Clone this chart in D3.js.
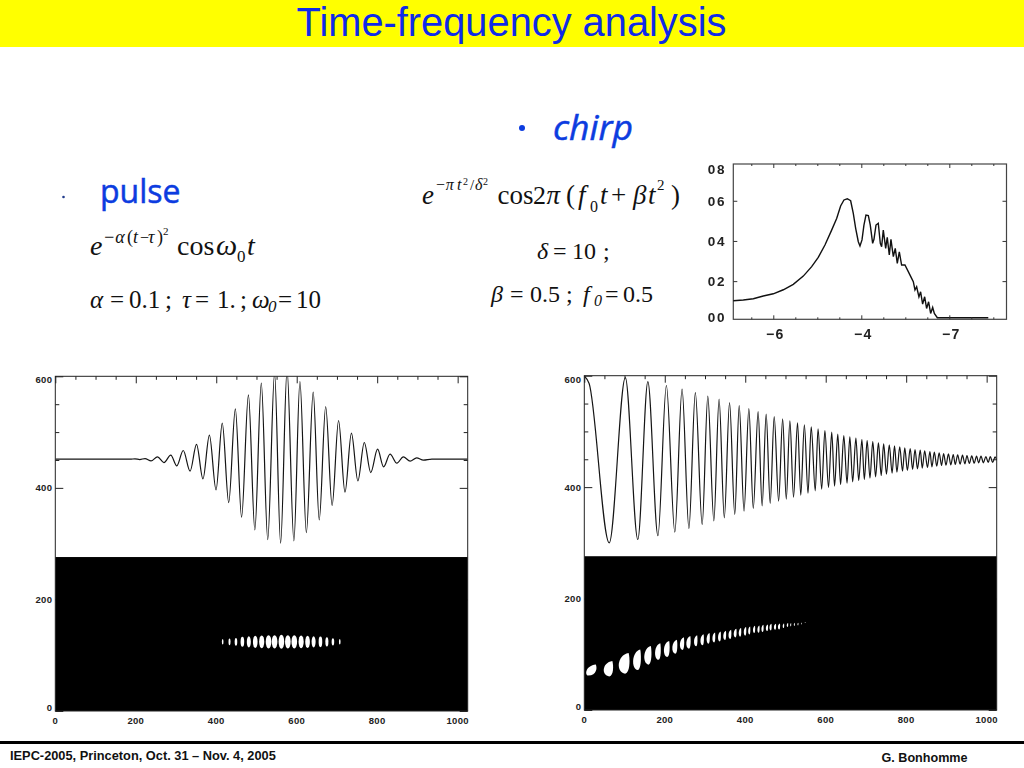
<!DOCTYPE html>
<html><head><meta charset="utf-8">
<style>html,body{margin:0;padding:0;background:#fff}svg{display:block}</style>
<script src="https://cdn.jsdelivr.net/npm/d3@7/dist/d3.min.js"></script>
</head><body>
<svg id="c" width="1024" height="768" viewBox="0 0 1024 768"></svg>
<script>
const titleText = "Time-frequency analysis";
const footerLeft = "IEPC-2005, Princeton, Oct. 31 – Nov. 4, 2005";
const footerRight = "G. Bonhomme";

const majorX = [0,200,400,600,800,1000];
const minorX = [50,100,150,250,300,350,450,500,550,650,700,750,850,900,950];
const majorY = [0,200,400,600];
const minorY = [450,500,550];

const pulseTime = [0,187,198,210,223,238,254,270,287,302,318,335,351,367,383,399.5,415,431,447.5,463,480,496,512,528,545,560,576,593,608,624,641,656,672,688,704,720,736,752,768,784,801,816,832,849,865,882,898,915,936,1025];
const pulseAmp  = [451.4,451.4,452,450.8,452.6,448.4,455.6,445.4,458.6,439.4,467,430,478,416,494.5,396.4,516,373.7,541.7,347.3,566.8,324.6,587.7,307.3,606,300.7,612,304.9,590.7,319.8,571.6,342.6,545.9,368.3,520.8,392.2,498,412.5,481.3,427.5,469.3,437.6,460.4,444.2,455.6,447.8,453.8,449.6,451.4,451.4];

const chirpTime = [0,12,62,102,133,158,183,204,225,243,260,276,293,307,322,335,348,361,374,385,397,409,420,432,442,452,462,472,483,493,502,511,520,530,538,547,556,564,574,581,590,598,607,615,622,630,637,645,653,660,667,675,682,690,696,703,710,717,724,731,738,744,751,758,765,771,777,784,791,796.5,803,810,816,822,828,835,840,846,853,859,864,870,876,882,888,893,899,905,911,917,922,928,934,940,946,951,957,963,969,975,980,986,992,998,1004,1009,1015,1021,1025];
const chirpAmp  = [599.7,586,300,596.7,306,589.5,312.7,582.4,319.2,575.8,325.8,569.8,333,563.2,339.6,557.8,345,551.9,351,546.5,356.9,541.1,361.7,535.7,366.5,530.9,370.7,526.7,374.8,522.6,378.4,519,382,515.4,385.6,511.8,389.2,508.2,393.4,504.6,396.4,501.6,399.4,498.6,401.8,495,404.7,492.7,407.1,490.3,409.5,487.9,411.9,485.5,413.7,483.7,416.1,481.9,418.5,479.5,420.9,477.7,423.3,475.9,425.1,474.1,426.9,472.3,428.7,470.5,429.9,469.3,431.7,467.5,432.9,466.3,434.1,465.1,435.2,463.9,436.4,462.8,437.6,461.6,438.8,460.4,439.4,459.8,440,458.6,440.6,458,441.2,457.4,441.8,456.8,442.4,456.2,443,455.6,443.6,455.6,443.6,455,444.2,455,444.2,454.4,448.4];

const pulseBlobTime = [416,433,449,465,481,497,513,530,545,562,578,594,611,627,642,659,675,690,707];
const pulseBlobHalfFreq = [5,6,7,9,10,11,11.4,12,12,12.6,12,12,11.4,11,10,9.6,8.4,6.6,5];
const pulseBlobHalfTime = [2,2.5,3.2,4.5,5,5.8,6.4,7,7,7,7,7,6.4,5.8,5,4.5,3.8,3.2,2];
const pulseBlobFreq = 124;

const chirpBlobTime = [19,60,99,131,158,183,205,225,243,259,277,293,308,322,336,349,362,375,387,399.5,410,422,433,443,454,463,474,484,495,505,513,522,531,540,549];
const chirpBlobFreq = [71.7,74,83.6,90.2,98,105,109.4,113.5,119,121.3,124.3,126.1,128.5,130.3,132,133.9,135.7,138,139.3,141,142.8,144.6,145.2,146.4,147.6,148.8,149.4,150,151.2,152.4,153,153.6,154.2,155.4,156.6];
const chirpBlobHalfFreq = [10,13.8,18.5,18.5,16.7,15,14.4,12.6,11.4,11.4,10,10,9.6,9,9,8.4,8.4,7.8,7.8,7.8,7.2,6.6,6.6,6.6,6,6,5.4,5.4,4.2,3.6,3,3,2.4,1.8,0.6];
const chirpBlobHalfTime = [10.8,10.8,12.4,9,8.3,6.6,6.6,5.8,5,5,4,4,3.7,3.3,3.3,3.3,3.3,3.3,2.9,2.9,2.5,2.5,2.5,2.5,2.5,2.5,2.5,2.5,1.7,1.7,1.2,1.2,1.2,0.8,1.7];

const insetPos = [-0.455,-0.341,-0.227,-0.114,0,0.114,0.227,0.341,0.436,0.511,0.587,0.663,0.72,0.765,0.803,0.841,0.879,0.909,0.936,0.966,0.985,1.008,1.03,1.053,1.08,1.102,1.129,1.144,1.167,1.193,1.216,1.231,1.25,1.277,1.295,1.318,1.337,1.364,1.386,1.409,1.432,1.458,1.496,1.534,1.572,1.591,1.61,1.629,1.655,1.674,1.697,1.72,1.742,1.765,1.788,1.811,1.83,1.864,2.083,2.443];
const insetVal = [0.1025,0.106,0.1125,0.126,0.137,0.157,0.184,0.225,0.272,0.318,0.38,0.454,0.512,0.574,0.604,0.61,0.6,0.537,0.463,0.396,0.375,0.405,0.479,0.529,0.526,0.479,0.388,0.408,0.479,0.488,0.388,0.371,0.454,0.363,0.418,0.33,0.408,0.322,0.363,0.288,0.346,0.28,0.28,0.247,0.214,0.197,0.156,0.172,0.122,0.147,0.086,0.122,0.064,0.097,0.039,0.069,0.039,0.018,0.018,0.018];
const insetXTicks = [0,1,2];
const insetXLabels = ["\u22126","\u22124","\u22127"];
const insetYTicks = [0.2,0.4,0.6];
const insetYLabels = ["08","06","04","02","00"];

const svg = d3.select("#c");
const blue = "#0c3ce0";
const SERIF = "'Liberation Serif','Times New Roman',serif";
const SANS = "'Liberation Sans',Arial,sans-serif";

// banner
svg.append("rect").attr("x",0).attr("y",0).attr("width",1024).attr("height",47).attr("fill","#ffff00");
svg.append("text").attr("x",511.5).attr("y",35.5).attr("text-anchor","middle")
  .attr("font-family",SANS).attr("font-size",39.8).attr("fill","#0f2be8").text(titleText);

// headings
const head = (x,y,s,size,it) => svg.append("text").attr("x",x).attr("y",y)
  .attr("font-family","'Open Sans','Noto Sans',sans-serif").attr("font-size",size)
  .attr("font-style",it?"italic":"normal").attr("fill",blue)
  .attr("stroke",blue).attr("stroke-width",0.5).text(s);
head(100,203,"pulse",32,false);
head(553,140,"chirp",35.5,true);
svg.append("circle").attr("cx",63.5).attr("cy",197).attr("r",1.3).attr("fill","#223c8c");
svg.append("circle").attr("cx",522).attr("cy",128).attr("r",3).attr("fill",blue);

// equations
const eq = (items) => items.forEach(([x,y,s,size,it]) => svg.append("text")
  .attr("x",x).attr("y",y).attr("font-family",SERIF).attr("font-size",size)
  .attr("font-style",it?"italic":"normal").attr("fill","#111").text(s));
eq([
 [90,255,"e",28,1],[103,243,"\u2212\u03b1",18,1],[127,243,"(",18,0],[133,243,"t",18,1],[140,243,"\u2212",16,0],[148,243,"\u03c4",18,1],[157,243,")",18,0],[163,235,"2",11,0],
 [177,255,"cos",28,0],[216,255,"\u03c9",30,1],[237,262,"0",17,0],[247,255,"t",28,1],
 [90,308,"\u03b1",25,1],[110,308,"=",25,0],[129,308,"0.1",25,0],[165,308,";",25,0],[182,308,"\u03c4",25,1],[195,308,"=",25,0],[217,308,"1.",25,0],[240,308,";",25,0],[252,308,"\u03c9",25,1],[268,312,"0",17,1],[278,308,"=",25,0],[296,308,"10",25,0],

 [422,204,"e",27,1],[435,190,"\u2212\u03c0",16,1],[457,190,"t",16,1],[463,185,"2",10,0],[470,190,"/",15,0],[475,190,"\u03b4",16,1],[483,185,"2",10,0],
 [497.5,204,"cos",27,0],[533,204,"2",26,0],[546.5,204,"\u03c0",27,1],[566,204,"(",27,0],[578,204,"f",27,1],[590,212,"0",16,0],[600,204,"t",27,1],[611,204,"+",27,0],[633,204,"\u03b2",27,1],[648,204,"t",27,1],[657,190,"2",15,0],[671,204,")",27,0],
 [537,259,"\u03b4",24,1],[553,259,"=",24,0],[572,259,"10",24,0],[603,259,";",24,0],
 [491,302,"\u03b2",24,1],[510,302,"=",24,0],[530,302,"0.5",24,0],[566,302,";",24,0],[583,302,"f",24,1],[594,306,"0",16,1],[605,302,"=",24,0],[623,302,"0.5",24,0]
]);

// wave + spectrogram panel
function panel(id,left,top,right,bottom,time,amp,drawBlobs){
  const x = d3.scaleLinear().domain([0,1025]).range([left,right]);
  const y = d3.scaleLinear().domain([0,600]).range([bottom,top]);
  const g = svg.append("g");
  g.append("clipPath").attr("id",id).append("rect")
    .attr("x",left).attr("y",top).attr("width",right-left).attr("height",bottom-top);
  const pts = time.map((t,i)=>[t,amp[i]]);
  g.append("path").datum(pts).attr("clip-path",`url(#${id})`).attr("fill","none")
    .attr("stroke","#151515").attr("stroke-width",1.2)
    .attr("d",d3.line().x(d=>x(d[0])).y(d=>y(d[1])).curve(d3.curveMonotoneX));
  const ax = (gen,tf) => g.append("g").attr("transform",tf).call(gen)
    .call(s=>{s.select(".domain").remove();s.selectAll("text").remove();s.selectAll("line").attr("stroke","#222");});
  ax(d3.axisTop(x).tickValues(majorX).tickSize(-7),`translate(0,${top})`);
  ax(d3.axisTop(x).tickValues(minorX).tickSize(-3.5),`translate(0,${top})`);
  ax(d3.axisLeft(y).tickValues(majorY).tickSize(-8),`translate(${left},0)`);
  ax(d3.axisLeft(y).tickValues(minorY).tickSize(-4),`translate(${left},0)`);
  ax(d3.axisRight(y).tickValues(majorY).tickSize(-8),`translate(${right},0)`);
  ax(d3.axisRight(y).tickValues(minorY).tickSize(-4),`translate(${right},0)`);
  g.append("rect").attr("x",left).attr("y",y(276)).attr("width",right-left).attr("height",y(0)-y(276)).attr("fill","#000");
  g.append("rect").attr("x",left).attr("y",top).attr("width",right-left).attr("height",bottom-top)
    .attr("fill","none").attr("stroke","#222").attr("stroke-width",1);
  drawBlobs(g,x,y);
  majorX.forEach(v=>g.append("text").attr("x",x(v)).attr("y",bottom+12.5).attr("text-anchor","middle")
    .attr("font-family",SANS).attr("font-size",9.5).attr("font-weight","bold").attr("letter-spacing",0.3).attr("fill","#222").text(v));
  majorY.forEach(v=>{
    const off = v===600?7:(v===0?0:3.5);
    g.append("text").attr("x",left-3).attr("y",y(v)+off).attr("text-anchor","end")
     .attr("font-family",SANS).attr("font-size",9.5).attr("font-weight","bold").attr("letter-spacing",0.3).attr("fill","#222").text(v);
  });
}

panel("clipA",55.3,376.3,467.7,711,pulseTime,pulseAmp,(g,x,y)=>{
  g.selectAll("ellipse.b").data(pulseBlobTime).join("ellipse").attr("class","b")
    .attr("cx",d=>x(d)).attr("cy",y(pulseBlobFreq))
    .attr("rx",(d,i)=>x(d+pulseBlobHalfTime[i])-x(d))
    .attr("ry",(d,i)=>y(pulseBlobFreq-pulseBlobHalfFreq[i])-y(pulseBlobFreq))
    .attr("fill","#fff");
});

panel("clipB",584.3,375.7,996.7,710,chirpTime,chirpAmp,(g,x,y)=>{
  g.selectAll("path.b").data(chirpBlobTime).join("path").attr("class","b")
    .attr("fill","#fff")
    .attr("d",(d,i)=>{
      const cx=x(d), cy=y(chirpBlobFreq[i]);
      const rx=x(d+chirpBlobHalfTime[i])-cx, ry=y(chirpBlobFreq[i]-chirpBlobHalfFreq[i])-cy;
      const p=d3.path();
      const tx=cx+rx*0.9, bx=i===0?cx-rx*0.9:cx+rx*0.2;
      p.moveTo(tx,cy-ry);
      p.bezierCurveTo(cx-rx*1.5,cy-ry*0.8,cx-rx*1.7,cy+ry*0.9,bx,cy+ry);
      p.bezierCurveTo(cx+rx*1.2,cy+ry*0.9,cx+rx*1.2,cy-ry*0.4,tx,cy-ry);
      p.closePath();
      return p.toString();
    });
});

// inset
(function(){
  const l=733.3,r=1006.5,t=164,b=319.3;
  const x=d3.scaleLinear().domain([-0.4545,2.65]).range([l,r]);
  const y=d3.scaleLinear().domain([0.01,0.783]).range([b,t]);
  const g=svg.append("g").style("filter","blur(0.45px)");
  g.append("rect").attr("x",l).attr("y",t).attr("width",r-l).attr("height",b-t).attr("fill","none").attr("stroke","#444").attr("stroke-width",1.2);
  g.append("path").datum(insetPos.map((p,i)=>[p,insetVal[i]])).attr("fill","none").attr("stroke","#111").attr("stroke-width",1.4)
    .attr("d",d3.line().x(d=>x(d[0])).y(d=>y(d[1])));
  const clean=s=>{s.select(".domain").remove();s.selectAll("text").remove();s.selectAll("line").attr("stroke","#333");};
  const minors=d3.range(-0.25,2.6,0.25).filter(v=>!insetXTicks.includes(v));
  g.append("g").attr("transform",`translate(0,${b})`).call(d3.axisBottom(x).tickValues(insetXTicks).tickSize(-4)).call(clean);
  g.append("g").attr("transform",`translate(0,${b})`).call(d3.axisBottom(x).tickValues(minors).tickSize(-2)).call(clean);
  g.append("g").attr("transform",`translate(0,${t})`).call(d3.axisTop(x).tickValues(insetXTicks).tickSize(-4)).call(clean);
  g.append("g").attr("transform",`translate(0,${t})`).call(d3.axisTop(x).tickValues(minors).tickSize(-2)).call(clean);
  g.append("g").attr("transform",`translate(${l},0)`).call(d3.axisLeft(y).tickValues(insetYTicks).tickSize(-4)).call(clean);
  g.append("g").attr("transform",`translate(${r},0)`).call(d3.axisRight(y).tickValues(insetYTicks).tickSize(-4)).call(clean);
  const labelY=[169,200.7,241,281,317];
  insetYLabels.forEach((s,i)=>g.append("text").attr("x",726).attr("y",labelY[i]+5).attr("text-anchor","end")
    .attr("font-family",SANS).attr("font-size",13.5).attr("font-weight","bold").attr("letter-spacing",1.6).attr("fill","#222").text(s));
  insetXTicks.forEach((v,i)=>g.append("text").attr("x",x(v)+2).attr("y",339).attr("text-anchor","middle")
    .attr("font-family",SANS).attr("font-size",14).attr("font-weight","bold").attr("letter-spacing",1.2).attr("fill","#222").text(insetXLabels[i]));
})();

// footer
svg.append("rect").attr("x",0).attr("y",741).attr("width",1024).attr("height",3).attr("fill","#000");
svg.append("text").attr("x",10).attr("y",760).attr("font-family",SANS).attr("font-weight","bold").attr("font-size",12.8).attr("fill","#111").text(footerLeft);
svg.append("text").attr("x",881.5).attr("y",762).attr("font-family",SANS).attr("font-weight","bold").attr("font-size",12.6).attr("fill","#111").text(footerRight);
</script>
</body></html>
